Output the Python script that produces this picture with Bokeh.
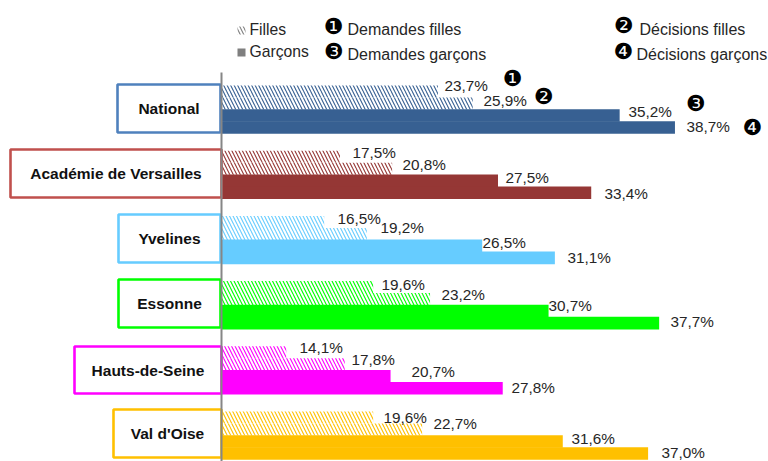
from bokeh.plotting import figure
from bokeh.models import Range1d
from bokeh.core.properties import value
from bokeh.embed import file_html
from bokeh.resources import INLINE

categories = ["National", "Académie de Versailles", "Yvelines", "Essonne", "Hauts-de-Seine", "Val d'Oise"]
demandes_filles = [23.7, 17.5, 16.5, 19.6, 14.1, 19.6]
decisions_filles = [25.9, 20.8, 19.2, 23.2, 17.8, 22.7]
demandes_garcons = [35.2, 27.5, 26.5, 30.7, 20.7, 31.6]
decisions_garcons = [38.7, 33.4, 31.1, 37.7, 27.8, 37.0]
legend_series = ["Filles", "Garçons"]
legend_notes = ["Demandes filles", "Demandes garçons", "Décisions filles", "Décisions garçons"]
notes = ["❶", "❷", "❸", "❹"]

# styles and layout (page pixels)
W, H = 768, 461
AX = 221.0
SCALE = 15.8
BASE = 10.0
ROW_H = 12
GROUP_TOP = 85
PITCH = 65.2
bar_colors = ["#376092", "#953735", "#66CCFF", "#00FF00", "#FF00FF", "#FFC000"]
box_colors = ["#4F81BD", "#C0504D", "#66CCFF", "#00FF00", "#FF00FF", "#FFC000"]
box_left = [117, 10, 118, 118, 74, 113]
box_right = [220, 221, 220, 220, 221, 221]
box_top = [84, 149, 214, 279, 346, 409]
box_bottom = [132, 197, 262, 327, 393, 457]
label_x = [[444, 483, 628, 686], [352, 402, 505, 604], [337, 380, 482, 567],
           [381, 441, 548, 670], [299, 351, 411, 511], [383, 433, 571, 661]]
label_y = [[85, 100, 111, 126], [152, 164, 177, 193], [218, 227, 242, 257],
           [284, 294, 305, 321], [347, 359, 371, 387], [417, 423, 438, 451.5]]
FS = "15.3px"

x_start = BASE - AX / SCALE
x_end = x_start + W / SCALE

p = figure(width=W, height=H, x_range=Range1d(x_start, x_end), y_range=Range1d(H, 0),
           output_backend="svg", toolbar_location=None, min_border=0,
           outline_line_color=None, x_axis_location=None, y_axis_location=None)
p.grid.visible = False
p.extra_x_ranges["px"] = Range1d(0, W)
PX = dict(x_range_name="px")

# bars
for i, c in enumerate(categories):
    col = bar_colors[i]
    rows = [GROUP_TOP + i * PITCH + (r + 0.5) * ROW_H for r in range(4)]
    p.hbar(y=rows[:2], left=BASE, right=[demandes_filles[i], decisions_filles[i]],
           height=ROW_H, fill_color="white", line_color=None, hatch_color=col,
           hatch_pattern="left_diagonal_line", hatch_scale=7, hatch_weight=1.1)
    p.hbar(y=rows[2:], left=BASE, right=[demandes_garcons[i], decisions_garcons[i]],
           height=ROW_H + 0.6, fill_color=col, line_color=None)

# category boxes
p.quad(left=box_left, right=box_right, top=box_top, bottom=box_bottom,
       fill_color="white", line_color=box_colors, line_width=2.6, **PX)
p.text(x=[(a + b) / 2 for a, b in zip(box_left, box_right)],
       y=[(a + b) / 2 for a, b in zip(box_top, box_bottom)], text=categories,
       text_font=value("Liberation Sans"), text_font_style="bold", text_font_size="15.5px",
       text_color="#111111", text_align="center", text_baseline="middle", **PX)

# axis line
p.segment(x0=[221], x1=[221], y0=[72], y1=[461], line_color="#868686", line_width=2, **PX)

# value labels
for i in range(len(categories)):
    vals = [demandes_filles[i], decisions_filles[i], demandes_garcons[i], decisions_garcons[i]]
    p.text(x=label_x[i], y=label_y[i], text=[f"{v:.1f}%".replace(".", ",") for v in vals],
           text_font=value("Liberation Sans"), text_font_size=FS, text_color="#262626",
           text_baseline="middle", **PX)

# legend
p.quad(left=[237], right=[245], top=[26], bottom=[34], fill_color="white", line_color=None,
       hatch_color="#7F7F7F", hatch_pattern="left_diagonal_line", hatch_scale=7, hatch_weight=1.1, **PX)
p.quad(left=[237], right=[245], top=[48], bottom=[56], fill_color="#7F7F7F", line_color=None, **PX)
p.text(x=[249, 249], y=[29, 51], text=legend_series, text_font=value("Liberation Sans"),
       text_font_size="15.7px", text_color="#262626", text_baseline="middle", **PX)
p.text(x=[347, 347, 639, 636], y=[29, 54, 29, 54], text=legend_notes,
       text_font=value("Liberation Sans"), text_font_size="16px", text_color="#262626",
       text_baseline="middle", **PX)
note_x = [333, 333, 623, 623, 512, 543, 695, 752]
note_y = [26, 51, 25, 51, 78, 96, 103, 127]
note_t = [notes[0], notes[2], notes[1], notes[3], notes[0], notes[1], notes[2], notes[3]]
p.text(x=note_x, y=note_y, text=note_t, text_font=value("DejaVu Sans"), text_font_size="22px",
       text_color="black", text_align="center", text_baseline="middle", **PX)

open("out.html", "w").write(file_html(p, INLINE))
